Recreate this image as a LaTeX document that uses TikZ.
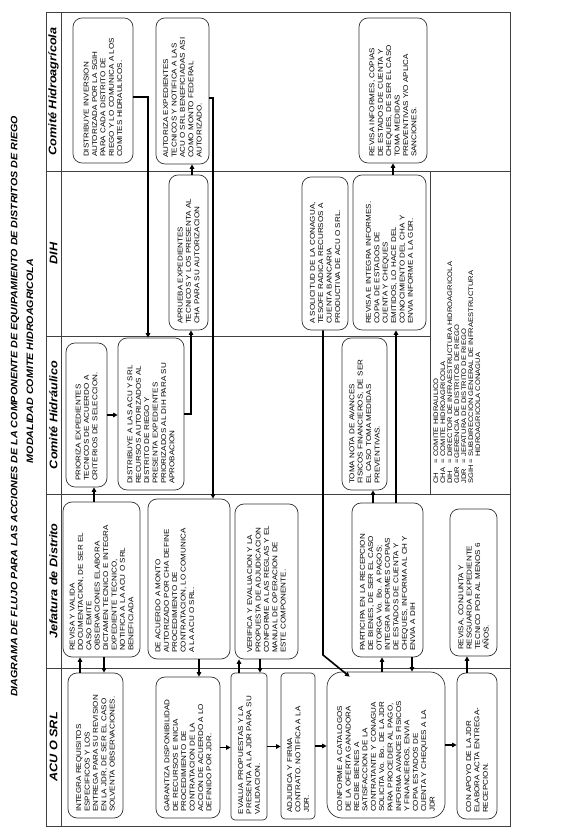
\documentclass[tikz,border=0pt]{standalone}
\usepackage{fontspec}
\setmainfont{Liberation Sans}[FakeStretch=1.15]
\usetikzlibrary{arrows.meta}

\begin{document}
\begin{tikzpicture}[
  x=1pt,y=1pt,
  stepbox/.style={draw=black!80,line width=0.7pt,rounded corners=9pt,align=left,inner sep=5pt,font=\fontsize{7}{8.4}\selectfont},
  sz/.style n args={3}{minimum width=#1pt,minimum height=#2pt,text width=#3pt},
  hdr/.style={font=\fontsize{11}{12}\selectfont\bfseries\itshape,inner sep=0pt},
  ttl/.style={font=\fontsize{9.3}{11}\selectfont\bfseries\itshape,inner sep=0pt},
  lane/.style={draw=black!75,line width=0.8pt},
  arrow/.style={-{Triangle[length=4.5pt,width=4.5pt]},line width=1.6pt}
]
\begin{scope}[rotate=90,transform shape]
\useasboundingbox (0,-583) rectangle (834,0);

% title
\node[ttl] (title1) at (427.5,-15) {DIAGRAMA DE FLUJO PARA LAS ACCIONES DE LA COMPONENTE DE EQUIPAMIENTO DE DISTRITOS DE RIEGO};
\node[ttl] (title2) at (473,-30) {MODALIDAD COMITE HIDROAGRICOLA};

% lanes
\draw[lane] (8,-510) rectangle (822,-46);
\draw[lane] (8,-61) -- (822,-61);
\foreach \x in {166,340,663}
  \draw[lane] (\x,-46) -- (\x,-510);
\draw[lane] (498,-46) -- (498,-430);
\draw[lane] (340,-430) -- (663,-430);

\node[hdr] (hAcu) at (87,-53.5) {ACU O SRL};
\node[hdr] (hJdr) at (253,-53.5) {Jefatura de Distrito};
\node[hdr] (hCh) at (419,-53.5) {Comité Hidráulico};
\node[hdr] (hDih) at (580.5,-53.5) {DIH};
\node[hdr] (hCha) at (742.5,-53.5) {Comité Hidroagrícola};

% Comite Hidroagricola
\node[stepbox,sz={145}{60}{133}] (distInv) at (743.5,-103) {DISTRIBUYE INVERSION\\AUTORIZADA POR LA SGIH\\PARA CADA DISTRITO DE\\RIEGO Y LO COMUNICA A LOS\\COMITES HIDRAULICOS.};
\node[stepbox,sz={146}{53}{134}] (autExp) at (743,-182.5) {AUTORIZA EXPEDIENTES\\TECNICOS Y NOTIFICA A LAS\\ACU O SRL BENEFICIADAS ASI\\COMO MONTO FEDERAL\\AUTORIZADO.};
\node[stepbox,sz={145}{68}{133}] (revInf) at (743.5,-393) {REVISA INFORMES, COPIAS\\DE ESTADOS DE CUENTA Y\\CHEQUES, DE SER EL CASO\\TOMA MEDIDAS\\PREVENTIVAS Y/O APLICA\\SANCIONES.};

% DIH
\node[stepbox,sz={155}{39}{143}] (aprExp) at (581.5,-188.5) {APRUEBA EXPEDIENTES\\TECNICOS Y LOS PRESENTA AL\\CHA PARA SU AUTORIZACION};
\node[stepbox,sz={153}{46}{141}] (tesofe) at (580.5,-325) {A SOLICITUD DE LA CONAGUA,\\TESOFE RADICA RECURSOS A\\CUENTA BANCARIA\\PRODUCTIVA DE ACU O SRL.};
\node[stepbox,sz={155}{73}{143}] (integInf) at (581.5,-389.5) {REVISA E INTEGRA INFORMES.\\COPIA DE ESTADOS DE\\CUENTA Y CHEQUES\\EMITIDOS, LO HACE DEL\\CONOCIMIENTO DEL CHA Y\\ENVIA INFORME A LA GDR.};

% Comite Hidraulico
\node[stepbox,sz={144}{41}{132}] (prioriza) at (419,-86.5) {PRIORIZA EXPEDIENTES\\TECNICOS DE ACUERDO A\\CRITERIOS DE SELECCION.};
\node[stepbox,sz={152}{66}{140}] (distRec) at (420,-151) {DISTRIBUYE A LAS ACU Y SRL\\RECURSOS AUTORIZADOS AL\\DISTRITO DE RIEGO Y\\PRESENTA EXPEDIENTES\\PRIORIZADOS AL DIH PARA SU\\APROBACION};
\node[stepbox,sz={152}{45}{140}] (tomaNota) at (420,-364.5) {TOMA NOTA DE AVANCES\\FISICOS FINANCIEROS, DE SER\\EL CASO TOMA MEDIDAS\\PREVENTIVAS.};

% Jefatura de Distrito
\node[stepbox,sz={155}{77}{143}] (revValida) at (254.5,-101.5) {REVISA Y VALIDA\\DOCUMENTACION, DE SER EL\\CASO EMITE\\OBSERVACIONES ELABORA\\DICTAMEN TECNICO E INTEGRA\\EXPEDIENTE TECNICO,\\NOTIFICA A LA ACU O SRL\\BENEFICIADA};
\node[stepbox,sz={160}{82}{148},text depth=62pt] (defProc) at (255,-189) {DE ACUERDO A MONTO\\AUTORIZADO POR CHA DEFINE\\PROCEDIMIENTO DE\\CONTRATACION, LO COMUNICA\\A LA ACU O SRL.};
\node[stepbox,sz={155}{63}{143}] (verifica) at (252.5,-266.5) {VERIFICA Y EVALUACION Y LA\\PROPUESTA DE ADJUDICACION\\CONFORME A LAS REGLAS Y EL\\MANUAL DE OPERACION DE\\ESTE COMPONENTE.};
\node[stepbox,sz={154}{71}{142}] (participa) at (254,-387.5) {PARTICIPA EN LA RECEPCION\\DE BIENES, DE SER EL CASO\\OTORGA Vo. Bo. A PAGOS;\\INTEGRA INFORMES COPIAS\\DE ESTADOS DE CUENTA Y\\CHEQUES, INFORMA AL CH Y\\ENVIA A DIH};
\node[stepbox,sz={147}{47}{135}] (resguarda) at (251.5,-473.5) {REVISA, CONJUNTA Y\\RESGUARDA EXPEDIENTE\\TECNICO POR AL MENOS 6\\AÑOS.};

% ACU o SRL
\node[stepbox,sz={145}{55}{133}] (integReq) at (88.5,-95.5) {INTEGRA REQUISITOS\\ESPECIFICOS Y LOS\\ENTREGA PARA SU REVISION\\EN LA JDR, DE SER EL CASO\\SOLVENTA OBSERVACIONES.};
\node[stepbox,sz={141}{64}{129}] (garantiza) at (86.5,-188) {GARANTIZA DISPONIBILIDAD\\DE RECURSOS E INICIA\\PROCEDIMIENTO DE\\CONTRATACION DE LA\\ACCION DE ACUERDO A LO\\DEFINIDO POR JDR.};
\node[stepbox,sz={147}{36}{135},rounded corners=4pt] (evalua) at (87.5,-249) {EVALUA PROPUESTAS Y LA\\PRESENTA A LA JDR PARA SU\\VALIDACION.};
\node[stepbox,sz={146}{34}{134},rounded corners=4pt] (adjudica) at (88,-298) {ADJUDICA Y FIRMA\\CONTRATO. NOTIFICA A LA\\JDR.};
\node[stepbox,sz={146}{118}{134},rounded corners=15pt] (recibe) at (89,-386) {CONFORME A CATALOGOS\\DE LA OFERTA GANADORA\\RECIBE BIENES A\\SATISFACCION DE LA\\CONTRATANTE Y CONAGUA\\SOLICITA Vo. Bo. DE LA JDR\\PARA PROCEDER AL PAGO,\\INFORMA AVANCES FISICOS\\Y FINANCIEROS, ENVIA\\COPIA ESTADOS DE\\CUENTA Y CHEQUES A LA\\JDR};
\node[stepbox,sz={146}{40}{134}] (actaER) at (88,-477) {CON APOYO DE LA JDR\\ELABORA ACTA ENTREGA-\\RECEPCION.};

% legend
\node[anchor=north west,inner sep=0pt,font=\fontsize{6.6}{7}\selectfont] (legend) at (350,-433) {%
\begin{tabular}{@{}l@{\ }l@{}}
CH & = COMITE HIDRAULICO\\
CHA & = COMITE HIDROAGRICOLA\\
DIH & = DIRECTOR DE INFRAESTRUCTURA HIDROAGRICOLA\\
GDR & =GERENCIA DE DISTRITOS DE RIEGO\\
JDR & = JEFATURA DE DISTRITO DE RIEGO\\
SGIH & = SUBDIRECCION GENERAL DE INFRAESTRUCTURA\\
 & \ \ \ HIDROAGRICOLA CONAGUA
\end{tabular}};

% connectors
\draw[arrow] (integReq.east |- 0,-80) -- (revValida.west |- 0,-80);
\draw[arrow] (revValida.west |- 0,-104) -- (integReq.east |- 0,-104);
\draw[arrow] (revValida.east |- 0,-94) -- (prioriza.west |- 0,-94);
\draw[arrow] (prioriza.south) -- (prioriza.south |- distRec.north);
\draw[arrow] (distRec.south) |- (aprExp.west |- 0,-191);
\draw[arrow] (distInv.south -| 737,0) |- (distRec.east |- 0,-148);
\draw[arrow] (aprExp.east |- 0,-192) -- (autExp.west |- 0,-192);
\draw[arrow] (autExp.south -| 736,0) |- (defProc.east |- 0,-213);
\draw[arrow] (defProc.west |- 0,-199) -- (garantiza.east |- 0,-199);
\draw[arrow] (garantiza.south) -- (garantiza.south |- evalua.north);
\draw[arrow] (evalua.east |- 0,-239) -- (verifica.west |- 0,-239);
\draw[arrow] (verifica.west |- 0,-260) -- (evalua.east |- 0,-260);
\draw[arrow] (evalua.south) -- (evalua.south |- adjudica.north);
\draw[arrow] (adjudica.south) -- (adjudica.south |- recibe.north);
\draw[arrow] (tesofe.west |- 0,-323) -- (179,-323) -- ([shift={(-5,-23)}]recibe.north east);
\draw[arrow] (recibe.east |- 0,-382) -- (participa.west |- 0,-382);
\draw[arrow] (participa.west |- 0,-412) -- (recibe.east |- 0,-412);
\draw[arrow] (participa.east |- 0,-373) -- (tomaNota.west |- 0,-373);
\draw[arrow] (participa.east |- 0,-396) -- (integInf.west |- 0,-396);
\draw[arrow] (integInf.east |- 0,-393) -- (revInf.west |- 0,-393);
\draw[arrow] (recibe.south) -- (recibe.south |- actaER.north);
\draw[arrow] (actaER.east |- 0,-467) -- (resguarda.west |- 0,-467);
\end{scope}
\end{tikzpicture}
\end{document}
